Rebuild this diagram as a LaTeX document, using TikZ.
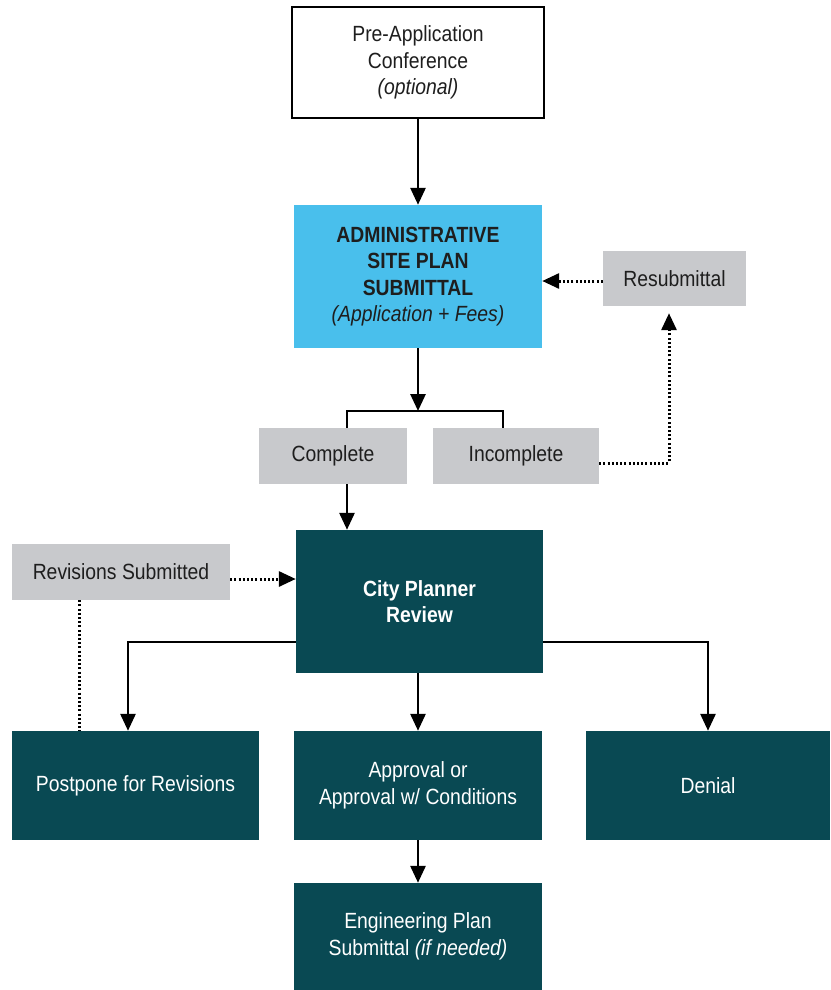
\documentclass[tikz,border=0pt]{standalone}
\usepackage{fontspec}
\setmainfont{Liberation Sans}[FakeStretch=0.88]
\usetikzlibrary{arrows.meta}
\definecolor{boxteal}{RGB}{9,73,83}
\definecolor{boxblue}{RGB}{73,191,236}
\definecolor{boxgray}{RGB}{200,201,204}
\definecolor{inkdark}{RGB}{30,30,30}
\tikzset{
  basebox/.style={rectangle, inner sep=0pt, align=center, font=\fontsize{22}{26.5}\selectfont},
  whitebox/.style={basebox, draw=black, line width=2.5pt, fill=white, text=inkdark},
  bluebox/.style={basebox, fill=boxblue, text=inkdark},
  graybox/.style={basebox, fill=boxgray, text=inkdark},
  tealbox/.style={basebox, fill=boxteal, text=white},
  conn/.style={line width=2.8pt, draw=black},
  arr/.style={conn, -{Triangle[length=17pt,width=15pt]}},
  dotline/.style={line width=3pt, draw=black, dash pattern=on 2pt off 2.2pt},
  dotarr/.style={dotline, -{Triangle[length=17pt,width=15pt]}}
}
\begin{document}
\begin{tikzpicture}[x=1pt,y=-1pt]
\useasboundingbox (0,0) rectangle (830,990);
% nodes
\node[whitebox, minimum width=252pt, minimum height=111pt] (pre) at (418,62.5)
  {Pre-Application\\Conference\\\textit{(optional)}};
\node[bluebox, minimum width=248pt, minimum height=143pt] (admin) at (418,276.5)
  {\textbf{ADMINISTRATIVE}\\\textbf{SITE PLAN}\\\textbf{SUBMITTAL}\\\textit{(Application + Fees)}};
\node[graybox, minimum width=143pt, minimum height=55pt] (resub) at (674.5,278.5) {Resubmittal};
\node[graybox, minimum width=148pt, minimum height=56pt] (complete) at (333,456) {Complete};
\node[graybox, minimum width=166pt, minimum height=56pt] (incomplete) at (516,456) {Incomplete};
\node[tealbox, minimum width=247pt, minimum height=143pt] (city) at (419.5,601.5)
  {\textbf{City Planner}\\\textbf{Review}};
\node[graybox, minimum width=218pt, minimum height=56pt] (revsub) at (121,572) {Revisions Submitted};
\node[tealbox, minimum width=247pt, minimum height=109pt] (postpone) at (135.5,785.5) {Postpone for Revisions};
\node[tealbox, minimum width=248pt, minimum height=109pt] (approval) at (418,785.5)
  {Approval or\\Approval w/ Conditions};
\node[tealbox, minimum width=244pt, minimum height=109pt] (denial) at (708,785.5) {Denial};
\node[tealbox, minimum width=248pt, minimum height=107pt] (eng) at (418,936.5)
  {Engineering Plan\\Submittal \textit{(if needed)}};
% helper coordinates
\coordinate (split) at (418,411);
% connectors
\draw[arr] (pre.south) -- (admin.north);
\draw[arr] (admin.south) -- (split);
\draw[conn] ([xshift=14pt]complete.north) |- (split) -| ([xshift=-13pt]incomplete.north);
\draw[arr] ([xshift=14pt]complete.south) -- ([xshift=14pt]complete.south |- city.north);
\draw[dotarr, shorten >=7pt] ([yshift=-7pt]incomplete.east) -| ([xshift=-5.5pt]resub.south);
\draw[dotarr] ([yshift=-2.5pt]resub.west) -- ([yshift=-2.5pt]resub.west -| admin.east);
\draw[dotarr] ([yshift=-7pt]revsub.east) -- ([yshift=-7pt]revsub.east -| city.west);
\draw[dotline] ([xshift=-42pt]revsub.south) -- ([xshift=-42pt]revsub.south |- postpone.north);
\draw[arr] ([yshift=-40.5pt]city.west) -| ([xshift=-7.5pt]postpone.north);
\draw[arr] ([xshift=-1.5pt]city.south) -- (approval.north);
\draw[arr] ([yshift=-40.5pt]city.east) -| (denial.north);
\draw[arr] (approval.south) -- (eng.north);
\end{tikzpicture}
\end{document}
